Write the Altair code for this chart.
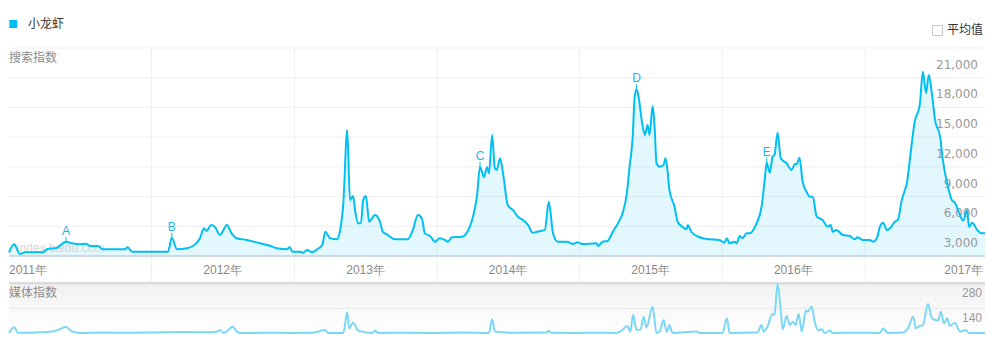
import altair as alt
import pandas as pd

# ---------------- data: 搜索指数 (search index), per year ----------------
d2011 = ["2011-01-01","2011-01-14","2011-01-29","2011-02-11","2011-03-29","2011-04-08","2011-05-04","2011-05-27","2011-06-11",
         "2011-07-02","2011-07-17","2011-07-27","2011-08-17","2011-08-29","2011-10-25","2011-11-01","2011-11-12","2012-01-01"]
v2011 = [3370,4180,3200,3370,3370,3680,3840,4440,4280,4180,4240,4010,4010,3680,3680,3880,3430,3430]

d2012 = ["2012-02-12","2012-02-22","2012-03-06","2012-03-31","2012-04-16","2012-05-04","2012-05-14","2012-05-21","2012-06-01",
         "2012-06-11","2012-06-24","2012-07-12","2012-07-24","2012-08-06","2012-09-01","2012-10-04","2012-10-30","2012-11-17",
         "2012-12-12","2012-12-20","2012-12-27"]
v2012 = [3430,4850,3680,3780,4010,4790,5800,5530,6130,5960,5120,6130,5290,4790,4620,4280,4040,3780,3680,3880,3430]

d2013 = ["2013-01-15","2013-01-23","2013-02-02","2013-02-15","2013-02-28","2013-03-13","2013-03-21","2013-04-02","2013-04-20",
         "2013-04-28","2013-05-06","2013-05-16","2013-05-23","2013-05-31","2013-06-05","2013-06-13","2013-06-20","2013-06-26",
         "2013-07-03","2013-07-11","2013-07-26","2013-08-08","2013-08-15","2013-08-28","2013-09-15","2013-10-18","2013-10-31",
         "2013-11-13","2013-11-23","2013-12-01","2013-12-14","2013-12-27"]
v2013 = [3430,3330,3610,3370,3680,4110,5450,4790,4690,5630,8320,15730,8660,9060,7650,6300,6300,8660,9060,6460,7140,6460,
         5450,5120,4690,4690,5630,7140,6810,5290,5020,4440]

d2014 = ["2014-01-08","2014-01-21","2014-01-29","2014-02-08","2014-03-06","2014-03-26","2014-04-03","2014-04-13","2014-04-21",
         "2014-04-26","2014-05-01","2014-05-09","2014-05-14","2014-05-22","2014-05-29","2014-06-03","2014-06-11","2014-06-19",
         "2014-07-01","2014-07-14","2014-07-27","2014-08-09","2014-08-22","2014-09-03","2014-09-14","2014-10-04","2014-10-14",
         "2014-10-25","2014-11-06","2014-11-29","2014-12-15","2014-12-27"]
v2014 = [4790,4620,4440,4890,4950,5960,6970,8990,12020,11510,10950,11960,11350,15220,11860,11690,12870,11350,8150,7650,
         6970,6640,6130,5350,5450,5630,8480,5290,4440,4440,4210,4380]

d2015 = ["2015-01-07","2015-02-14","2015-02-17","2015-03-01","2015-03-14","2015-03-27","2015-04-14","2015-04-21","2015-05-02",
         "2015-05-09","2015-05-17","2015-05-22","2015-05-27","2015-06-01","2015-06-09","2015-06-17","2015-06-24","2015-06-29",
         "2015-07-07","2015-07-12","2015-07-17","2015-07-25","2015-08-04","2015-08-09","2015-08-14","2015-08-19","2015-09-01",
         "2015-09-09","2015-09-21","2015-10-02","2015-10-05","2015-10-14","2015-11-04","2015-11-22","2015-12-25"]
v2015 = [4210,4280,4010,4440,4520,5450,6640,7310,9330,12020,15050,19090,19840,19090,16740,15220,16230,15220,18150,16060,
         12360,12020,12190,12870,11690,9670,7980,6460,5960,5700,6130,5450,4890,4720,4620]

d2016 = ["2016-01-07","2016-01-13","2016-01-20","2016-02-02","2016-02-07","2016-02-15","2016-02-22","2016-03-04","2016-03-11",
         "2016-03-29","2016-04-11","2016-04-19","2016-04-24","2016-05-02","2016-05-09","2016-05-14","2016-05-22","2016-05-30",
         "2016-06-14","2016-06-27","2016-07-05","2016-07-10","2016-07-17","2016-07-25","2016-08-04","2016-08-12","2016-08-20",
         "2016-08-30","2016-09-14","2016-09-27","2016-10-05","2016-10-10","2016-10-20","2016-11-05","2016-11-23","2016-12-05",
         "2016-12-13","2016-12-26"]
v2016 = [4340,4790,4280,4440,4280,5020,4790,5290,5290,6300,7980,10680,12420,11410,13030,13200,15450,12870,12360,11690,
         12290,12290,12930,10500,9490,8990,8990,6970,6640,5960,6130,5450,5630,5120,5020,4690,4890,4620]

d2017 = ["2017-01-13","2017-01-21","2017-01-31","2017-02-08","2017-02-16","2017-02-26","2017-03-06","2017-03-18","2017-03-26",
         "2017-04-05","2017-04-13","2017-04-18","2017-04-26","2017-05-08","2017-05-21","2017-05-29","2017-06-06","2017-06-13",
         "2017-06-21","2017-06-29","2017-07-12","2017-07-19","2017-08-01","2017-08-11","2017-08-19","2017-09-01","2017-09-09",
         "2017-09-19","2017-09-24","2017-10-02","2017-10-15","2017-10-27","2017-11-04"]
v2017 = [4620,4440,4790,5960,6360,5630,5800,6460,6640,8660,9670,10340,12870,16560,18250,21610,19430,21280,19430,16740,
         15050,12700,10000,8660,8380,7140,6570,7650,5960,6360,5630,5290,5290]

# ---------------- data: 媒体指数 (media index) ----------------
media_dates = [
    "2011-01-01","2011-01-14","2011-01-24","2011-03-10","2011-04-16","2011-05-06","2011-05-27","2011-06-11","2011-07-02","2011-09-01","2011-11-01",
    "2012-01-15","2012-03-31","2012-05-10","2012-06-16","2012-06-24","2012-07-04","2012-07-27","2012-08-06","2012-08-14","2012-10-15","2012-12-20",
    "2013-02-15","2013-03-21","2013-03-28","2013-05-06","2013-05-16","2013-05-21","2013-05-31","2013-06-13","2013-07-19","2013-07-26","2013-08-03","2013-10-15","2013-12-15",
    "2014-03-10","2014-05-14","2014-05-22","2014-05-29","2014-07-15","2014-10-08","2014-10-14","2014-10-20","2014-12-20",
    "2015-02-15","2015-04-05","2015-04-18","2015-05-03","2015-05-11","2015-05-18","2015-05-27","2015-06-06","2015-06-14","2015-06-21",
    "2015-07-07","2015-07-17","2015-07-25","2015-08-04","2015-08-12","2015-08-19","2015-08-27","2015-10-27","2015-11-05",
    "2016-01-02","2016-01-13","2016-01-20","2016-03-31","2016-04-11","2016-04-16","2016-04-26","2016-05-09","2016-05-14","2016-05-22",
    "2016-05-30","2016-06-04","2016-06-14","2016-06-22","2016-06-30","2016-07-07","2016-07-15","2016-07-23","2016-08-02","2016-08-07",
    "2016-08-17","2016-08-25","2016-09-02","2016-09-12","2016-09-20","2016-10-03","2016-10-10","2016-12-10",
    "2017-02-08","2017-02-16","2017-02-28","2017-04-08","2017-04-21","2017-05-04","2017-05-11","2017-05-21","2017-05-29","2017-06-11",
    "2017-06-21","2017-07-07","2017-07-14","2017-07-22","2017-07-30","2017-08-06","2017-08-19","2017-09-01","2017-09-16","2017-09-24","2017-11-04"]
media_values = [
    2,34,3,5,9,18,37,10,2,4,3,
    5,7,6,9,18,2,37,10,1,3,2,
    3,18,2,2,118,28,59,15,2,15,2,3,2,
    4,2,78,10,3,4,14,3,2,
    3,2,13,41,10,102,18,22,93,34,
    149,2,10,74,9,46,2,10,2,
    2,84,2,4,46,9,37,108,102,276,
    130,22,97,46,65,46,108,9,127,121,
    149,65,18,22,2,15,2,3,
    2,28,2,4,28,93,28,41,46,164,
    84,71,121,56,84,41,59,9,18,2,2]

# event markers
marker_labels = ["A", "B", "C", "D", "E"]
marker_dates = ["2011-05-27", "2012-02-22", "2014-04-21", "2015-05-27", "2016-04-24"]
marker_values = [4440, 4850, 12020, 19840, 12420]

# axis ticks / labels
main_grid = [3000, 6000, 9000, 12000, 15000, 18000, 21000, 24000]
main_ticks = [3000, 6000, 9000, 12000, 15000, 18000, 21000]
media_ticks = [280, 140]
year_starts = ["2012-01-01", "2013-01-01", "2014-01-01", "2015-01-01", "2016-01-01", "2017-01-01"]
first_year = ["2011-01-01"]
mid_years = ["2012-07-01", "2013-07-02", "2014-07-02", "2015-07-02", "2016-07-01"]
last_year = ["2017-11-04"]
series_name = "小龙虾"
avg_name = "平均值"

# ---------------- frames ----------------
search_dates = d2011 + d2012 + d2013 + d2014 + d2015 + d2016 + d2017
search_values = v2011 + v2012 + v2013 + v2014 + v2015 + v2016 + v2017
assert len(search_dates) == len(search_values)
assert len(media_dates) == len(media_values)

search_df = pd.DataFrame({"date": search_dates, "value": search_values})
media_df = pd.DataFrame({"date": media_dates, "value": media_values})
marker_df = pd.DataFrame({"date": marker_dates, "value": marker_values, "label": marker_labels})
vgrid_df = pd.DataFrame({"date": year_starts})
hgrid_df = pd.DataFrame({"value": main_grid})
ytick_df = pd.DataFrame({"value": main_ticks})
mtick_df = pd.DataFrame({"value": media_ticks, "label": [str(t) for t in media_ticks]})
one = pd.DataFrame({"k": [0]})

def years_df(dates):
    return pd.DataFrame({"date": dates, "label": [d[:4] + "年" for d in dates]})

LINE = "#00bff3"
MEDIA = "#7ad8f7"
GRID = "#efefef"
TXT = "#999999"

def dt(y, m, d):
    return alt.DateTime(year=y, month=m, date=d, utc=True)

xscale = alt.Scale(type="utc", domain=[dt(2011, 1, 1), dt(2017, 11, 4)])
ymain = alt.Scale(domain=[3000, 24000], range=[208, 0])
ymed = alt.Scale(domain=[0, 280], range=[285.3, 235.3])

def X():
    return alt.X("date:T", scale=xscale, axis=None)

def YM(field="value:Q"):
    return alt.Y(field, scale=ymain, axis=None)

def YD(field="value:Q"):
    return alt.Y(field, scale=ymed, axis=None)

def label(text, x, y, color="#8c8c8c", font="Noto Sans CJK SC"):
    return alt.Chart(one).mark_text(
        text=text, font=font, fontSize=12, color=color, align="left", baseline="middle"
    ).encode(x=alt.value(x), y=alt.value(y))

# ---------------- main panel ----------------
hgrid = alt.Chart(hgrid_df).mark_rule(color=GRID, strokeWidth=1).encode(y=YM())
vgrid = alt.Chart(vgrid_df).mark_rule(color=GRID, strokeWidth=1).encode(
    x=X(), y=alt.YDatum(24000, scale=ymain, axis=None), y2=alt.Y2Datum(274))

area = alt.Chart(search_df).mark_area(color=LINE, opacity=0.11, interpolate="monotone").encode(
    x=X(), y=YM(), y2=alt.Y2Datum(3000))

ylabels = alt.Chart(ytick_df).mark_text(
    font="DejaVu Sans", fontSize=12, color=TXT, align="right", baseline="middle", dy=-13).encode(
    x=alt.value(969), y=YM(), text=alt.Text("value:Q", format=","))

baseline = alt.Chart(one).mark_rule(color="#c6d2dd", strokeWidth=1.5).encode(
    y=alt.YDatum(3000, scale=ymain, axis=None))

def year_text(dates, align, dx):
    return alt.Chart(years_df(dates)).mark_text(
        font="Liberation Sans", fontSize=12, color="#888888", align=align, baseline="middle", dx=dx).encode(
        x=X(), y=alt.value(222), text="label:N")

line = alt.Chart(search_df).mark_line(color=LINE, strokeWidth=2, interpolate="monotone").encode(
    x=X(), y=YM())

stems = alt.Chart(marker_df).transform_calculate(top="datum.value + 500").mark_rule(
    color=LINE, strokeWidth=1).encode(
    x=X(), y=YM(), y2="top:Q")

letters = alt.Chart(marker_df).mark_text(
    color="#1fb2ec", font="Liberation Sans", fontSize=12, dy=-11, baseline="middle").encode(
    x=X(), y=YM(), text="label:N")

search_title = label("搜索指数", 0, 10)
watermark = label("index.baidu.com", 8, 200, color="#d6d6d6", font="Liberation Sans")
legend_sq = alt.Chart(one).mark_square(size=64, color=LINE, opacity=1).encode(
    x=alt.value(4.3), y=alt.value(-24))
legend_txt = label(series_name, 19, -24, color="#333333")
check_box = alt.Chart(one).mark_square(size=100, filled=False, stroke="#c8c8c8", strokeWidth=1, opacity=1).encode(
    x=alt.value(928.5), y=alt.value(-17.5))
check_txt = label(avg_name, 938, -18, color="#333333")

# ---------------- media panel ----------------
bg = alt.Chart(one).mark_rect(fill={
    "gradient": "linear", "x1": 0, "x2": 0, "y1": 0, "y2": 1,
    "stops": [{"offset": 0, "color": "#f1f1f1"}, {"offset": 0.9, "color": "#ffffff"}]}).encode(
    y=alt.YDatum(280, scale=ymed, axis=None), y2=alt.Y2Datum(-26))
sep = alt.Chart(one).mark_rule(color="#dcdcdc", strokeWidth=2.5).encode(
    y=alt.YDatum(280, scale=ymed, axis=None))
mgrid = alt.Chart(one).mark_rule(color="#e8e8e8", strokeWidth=1).encode(
    y=alt.YDatum(140, scale=ymed, axis=None))
mline = alt.Chart(media_df).mark_line(color=MEDIA, strokeWidth=2, interpolate="monotone").encode(
    x=X(), y=YD())
mlabels = alt.Chart(mtick_df).mark_text(
    font="Liberation Sans", fontSize=12, color=TXT, align="right", baseline="middle", dy=10).encode(
    x=alt.value(973), y=YD(), text="label:N")
media_title = label("媒体指数", 0, 245)

chart = alt.layer(
    hgrid, vgrid, area, ylabels, baseline,
    year_text(first_year, "left", 0), year_text(mid_years, "center", 0), year_text(last_year, "right", -2),
    watermark, line, stems, letters, search_title,
    legend_sq, legend_txt, check_box, check_txt,
    bg, sep, mgrid, mline, mlabels, media_title,
).resolve_scale(y="independent").properties(
    width=976, height=290,
    padding={"left": 9, "top": 48, "right": 1, "bottom": 10},
    autosize=alt.AutoSizeParams(type="none"),
    background="white",
).configure_view(strokeWidth=0)

chart.save("out.html", embed_options={"renderer": "svg", "actions": False})
